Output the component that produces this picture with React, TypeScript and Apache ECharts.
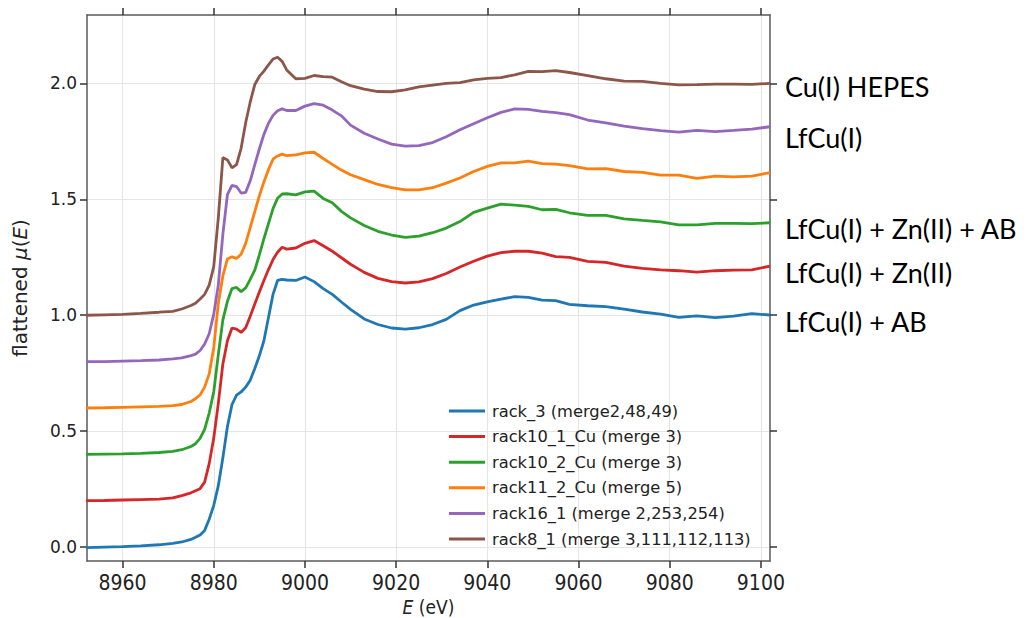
import React, { useEffect, useRef } from 'react';
import * as echarts from 'echarts';

// Photon energy grid (eV)
const energy = [8952, 8956, 8960, 8964, 8968, 8971, 8973, 8975, 8976, 8977, 8978, 8979, 8980, 8981, 8982, 8983, 8984, 8985, 8986, 8987, 8988, 8989, 8990, 8991, 8992, 8993, 8994, 8995, 8996, 8998, 9000, 9002, 9004, 9006, 9008, 9010, 9013, 9016, 9019, 9022, 9025, 9028, 9031, 9034, 9037, 9040, 9043, 9046, 9049, 9052, 9055, 9058, 9062, 9066, 9070, 9074, 9078, 9082, 9086, 9090, 9094, 9098, 9102];

// flattened mu(E), as plotted (with vertical offsets)
const rack3 = [-0.002, 0.0, 0.002, 0.005, 0.01, 0.016, 0.022, 0.033, 0.042, 0.052, 0.072, 0.12, 0.18, 0.265, 0.385, 0.52, 0.615, 0.655, 0.669, 0.69, 0.72, 0.77, 0.825, 0.89, 0.99, 1.09, 1.15, 1.155, 1.152, 1.15, 1.165, 1.145, 1.115, 1.09, 1.057, 1.025, 0.984, 0.96, 0.945, 0.94, 0.946, 0.96, 0.982, 1.02, 1.044, 1.058, 1.07, 1.08, 1.077, 1.065, 1.063, 1.047, 1.041, 1.037, 1.026, 1.014, 1.005, 0.991, 0.997, 0.99, 0.996, 1.007, 1.001];
const rack10_1 = [0.2, 0.201, 0.203, 0.205, 0.207, 0.212, 0.222, 0.234, 0.243, 0.252, 0.28, 0.36, 0.47, 0.62, 0.79, 0.89, 0.945, 0.94, 0.926, 0.946, 0.996, 1.048, 1.1, 1.15, 1.197, 1.24, 1.272, 1.293, 1.285, 1.29, 1.31, 1.322, 1.3, 1.276, 1.248, 1.22, 1.185, 1.159, 1.145, 1.139, 1.144, 1.158, 1.18, 1.208, 1.233, 1.255, 1.27, 1.276, 1.276, 1.268, 1.253, 1.25, 1.232, 1.228, 1.212, 1.202, 1.196, 1.192, 1.186, 1.192, 1.195, 1.196, 1.212];
const rack10_2 = [0.4, 0.401, 0.402, 0.404, 0.408, 0.413, 0.42, 0.434, 0.446, 0.469, 0.508, 0.578, 0.67, 0.83, 0.98, 1.06, 1.115, 1.12, 1.102, 1.118, 1.155, 1.195, 1.26, 1.33, 1.395, 1.46, 1.505, 1.523, 1.524, 1.519, 1.532, 1.535, 1.504, 1.485, 1.448, 1.42, 1.387, 1.362, 1.346, 1.336, 1.341, 1.356, 1.376, 1.404, 1.444, 1.462, 1.479, 1.475, 1.47, 1.455, 1.457, 1.442, 1.431, 1.431, 1.416, 1.409, 1.403, 1.39, 1.39, 1.396, 1.396, 1.395, 1.399];
const rack11_2 = [0.6, 0.601, 0.603, 0.605, 0.607, 0.61, 0.615, 0.628, 0.64, 0.656, 0.69, 0.747, 0.86, 1.051, 1.17, 1.243, 1.252, 1.245, 1.263, 1.31, 1.378, 1.447, 1.515, 1.575, 1.628, 1.673, 1.687, 1.695, 1.688, 1.692, 1.7, 1.703, 1.676, 1.651, 1.626, 1.606, 1.585, 1.564, 1.55, 1.541, 1.541, 1.55, 1.57, 1.592, 1.62, 1.642, 1.657, 1.657, 1.665, 1.654, 1.652, 1.645, 1.631, 1.632, 1.62, 1.616, 1.604, 1.604, 1.59, 1.6, 1.597, 1.6, 1.615];
const rack16_1 = [0.8, 0.8, 0.802, 0.804, 0.807, 0.812, 0.816, 0.826, 0.832, 0.848, 0.876, 0.92, 1.005, 1.13, 1.35, 1.52, 1.56, 1.555, 1.527, 1.53, 1.58, 1.65, 1.717, 1.78, 1.828, 1.862, 1.882, 1.89, 1.883, 1.883, 1.902, 1.913, 1.906, 1.885, 1.86, 1.82, 1.785, 1.76, 1.738, 1.729, 1.732, 1.745, 1.77, 1.8, 1.826, 1.852, 1.875, 1.89, 1.888, 1.879, 1.874, 1.865, 1.842, 1.83, 1.816, 1.805, 1.796, 1.79, 1.797, 1.792, 1.797, 1.803, 1.813];
const rack8_1 = [1.0, 1.002, 1.004, 1.008, 1.013, 1.017, 1.027, 1.042, 1.052, 1.07, 1.09, 1.13, 1.21, 1.42, 1.68, 1.67, 1.636, 1.65, 1.72, 1.83, 1.92, 1.995, 2.03, 2.053, 2.08, 2.105, 2.113, 2.095, 2.058, 2.02, 2.022, 2.034, 2.029, 2.027, 2.007, 1.99, 1.975, 1.965, 1.964, 1.972, 1.985, 1.993, 2.0, 2.003, 2.015, 2.022, 2.025, 2.037, 2.052, 2.051, 2.055, 2.047, 2.034, 2.02, 2.01, 2.009, 2.0, 1.994, 1.995, 1.997, 1.997, 1.996, 2.0];

const seriesNames = [
  'rack_3 (merge2,48,49)',
  'rack10_1_Cu (merge 3)',
  'rack10_2_Cu (merge 3)',
  'rack11_2_Cu (merge 5)',
  'rack16_1 (merge 2,253,254)',
  'rack8_1 (merge 3,111,112,113)',
];
const seriesValues = [rack3, rack10_1, rack10_2, rack11_2, rack16_1, rack8_1];
const seriesColors = ['#1f77b4', '#d62728', '#2ca02c', '#ff7f0e', '#9467bd', '#8c564b'];

const xTicks = [8960, 8980, 9000, 9020, 9040, 9060, 9080, 9100];
const yTicks = [0, 0.5, 1.0, 1.5, 2.0];

const sampleLabels = ['Cu(I) HEPES', 'LfCu(I)', 'LfCu(I) + Zn(II) + AB', 'LfCu(I) + Zn(II)', 'LfCu(I) + AB'];
const sampleLabelY = [86, 137, 228, 272, 321];

const FRAME = '#5a5a5a';
const TICK = '#333333';
const TEXT = '#222222';
const FONT = 'DejaVu Sans';
const NARROW = "'Liberation Sans Narrow', 'DejaVu Sans Condensed', 'DejaVu Sans'";

export default function App() {
  const ref = useRef<HTMLDivElement>(null);
  useEffect(() => {
    if (!ref.current) return;
    const chart = echarts.init(ref.current, undefined, { renderer: 'svg' });
    const xMin = 8952.2, xMax = 9102;
    const yMin = -0.06, yMax = 2.295;
    const axisLine = { show: true, onZero: false, lineStyle: { color: FRAME, width: 1.5 } };
    const tick = (vals: number[]) => ({ show: true, inside: false, length: 7, lineStyle: { color: TICK, width: 1.5 }, customValues: vals });
    const option: any = {
      animation: false,
      backgroundColor: '#ffffff',
      grid: { left: 87, right: 256, top: 15, bottom: 57, containLabel: false, outerBoundsMode: 'none' },
      legend: {
        orient: 'vertical',
        left: 444,
        top: 398,
        icon: 'rect',
        itemWidth: 36,
        itemHeight: 3,
        itemGap: 9.6,
        data: seriesNames,
        textStyle: { fontFamily: FONT, fontSize: 16.3, lineHeight: 16, color: TEXT, padding: [0, 0, 0, 2] },
      },
      xAxis: [
        {
          type: 'value', min: xMin, max: xMax, position: 'bottom',
          axisLine, axisTick: tick(xTicks),
          axisLabel: { customValues: xTicks, margin: 11, color: TEXT, fontFamily: NARROW, fontSize: 21, formatter: (v: number) => String(v) },
          splitLine: { show: true, lineStyle: { color: '#e5e5e5', width: 1 } },
          name: '{i|E} (eV)', nameLocation: 'middle', nameGap: 34,
          nameTextStyle: { fontFamily: NARROW, fontSize: 19, lineHeight: 19, color: TEXT, rich: { i: { fontFamily: NARROW, fontSize: 19, lineHeight: 19, fontStyle: 'italic', color: TEXT } } },
        },
        {
          type: 'value', min: xMin, max: xMax, position: 'top',
          axisLine, axisTick: tick(xTicks),
          axisLabel: { show: false }, splitLine: { show: false },
        },
      ],
      yAxis: [
        {
          type: 'value', min: yMin, max: yMax, position: 'left',
          axisLine, axisTick: tick(yTicks),
          axisLabel: { customValues: yTicks, margin: 10, color: TEXT, fontFamily: FONT, fontSize: 17, formatter: (v: number) => v.toFixed(1) },
          splitLine: { show: true, lineStyle: { color: '#e5e5e5', width: 1 } },
          name: 'flattened {i|μ}({i|E})', nameLocation: 'middle', nameGap: 57,
          nameTextStyle: { fontFamily: FONT, fontSize: 20, color: TEXT, rich: { i: { fontFamily: FONT, fontSize: 20, fontStyle: 'italic', color: TEXT } } },
        },
        {
          type: 'value', min: yMin, max: yMax, position: 'right',
          axisLine, axisTick: tick(yTicks),
          axisLabel: { show: false }, splitLine: { show: false },
        },
      ],
      series: seriesNames.map((name, k) => ({
        name,
        type: 'line',
        xAxisIndex: 0,
        yAxisIndex: 0,
        data: energy.map((e, i) => [e, seriesValues[k][i]]),
        symbol: 'none',
        showSymbol: false,
        color: seriesColors[k],
        lineStyle: { color: seriesColors[k], width: 2.8 },
        emphasis: { disabled: true },
      })),
      graphic: sampleLabels.map((t, i) => ({
        type: 'text',
        x: 785,
        y: sampleLabelY[i],
        style: { text: t, fontFamily: 'Lato', fontSize: 27, fill: '#000000', textVerticalAlign: 'middle', textAlign: 'left' },
      })),
    };
    chart.setOption(option);
    return () => chart.dispose();
  }, []);
  return <div ref={ref} style={{ position: 'fixed', left: 0, top: 0, width: 1026, height: 618, background: '#fff' }} />;
}
